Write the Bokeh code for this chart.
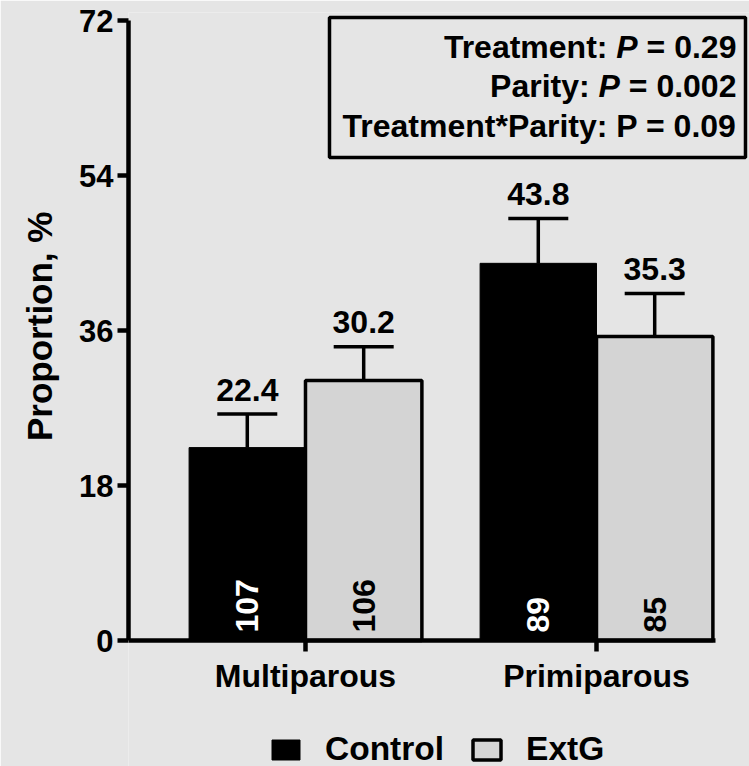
import numpy as np
from bokeh.plotting import figure
from bokeh.models import (ColumnDataSource, Whisker, TeeHead, Label, BoxAnnotation,
                          Legend, LegendItem, FixedTicker, Range1d)
from bokeh.core.properties import value
from bokeh.embed import file_html
from bokeh.resources import INLINE

# ---------------- data ----------------
categories = ["Multiparous", "Primiparous"]
control = [22.4, 43.8]
extg = [30.2, 35.3]
control_se = [3.9, 5.2]
extg_se = [3.9, 5.0]
control_n = [107, 89]
extg_n = [106, 85]
y_ticks = [0, 18, 36, 54, 72]
series_names = ["Control", "ExtG"]
y_title = "Proportion, %"
stats_lines = [
    ("Treatment:", "P", "= 0.29"),
    ("Parity:", "P", "= 0.002"),
    ("Treatment*Parity: P = 0.09", None, None),
]

# ---------------- style ----------------
FONT = "Liberation Sans"
BG = "#e5e5e5"
EXTG_FILL = "#d4d4d4"
LW = 3.5

# Arial/Liberation Sans Bold advance widths (per 1000 em)
W = {' ': 278, ':': 333, '=': 584, '.': 278, '*': 389, 'P': 667, 'T': 611, 'r': 389,
     'e': 556, 'a': 556, 't': 333, 'm': 889, 'n': 611, 'i': 278, 'y': 556}
for d in "0123456789":
    W[d] = 556


def text_width(s, size):
    return sum(W.get(c, 556) for c in s) * size / 1000.0


gx = list(range(1, len(categories) + 1))
off = 0.2
bw = 0.4

PX_PER_Y = 620 / 72.0          # vertical scale
Y_END = 628 / PX_PER_Y          # frame top 12 px from canvas top, zero line at 640
Y_START = -126 / PX_PER_Y       # frame reaches the canvas bottom
BASE_FIX = 11.5                 # px: rendered alphabetic baseline sits this much lower

p = figure(width=749, height=766, output_backend="svg", toolbar_location=None,
           x_range=Range1d(0.3918, 2.5258), y_range=Range1d(Y_START, Y_END),
           min_border_left=128, min_border_right=0, min_border_top=12, min_border_bottom=0)
p.background_fill_color = BG
p.border_fill_color = BG
p.outline_line_color = None
p.xgrid.visible = False
p.ygrid.visible = False

lab_gap = (13 + BASE_FIX) / PX_PER_Y   # 13 px above the error cap
n_gap = 8 / PX_PER_Y                   # 8 px above the baseline

src_c = ColumnDataSource(dict(
    x=[g - off for g in gx], top=control,
    upper=[v + e for v, e in zip(control, control_se)],
    lbl_y=[v + e + lab_gap for v, e in zip(control, control_se)],
    lbl=[f"{v:.1f}" for v in control], n=[str(n) for n in control_n],
    n_y=[n_gap] * len(gx)))
src_e = ColumnDataSource(dict(
    x=[g + off for g in gx], top=extg,
    upper=[v + e for v, e in zip(extg, extg_se)],
    lbl_y=[v + e + lab_gap for v, e in zip(extg, extg_se)],
    lbl=[f"{v:.1f}" for v in extg], n=[str(n) for n in extg_n],
    n_y=[n_gap] * len(gx)))

rc = p.vbar(x='x', top='top', width=bw, bottom=0, source=src_c,
            fill_color="black", line_color="black", line_width=1)
re = p.vbar(x='x', top='top', width=bw, bottom=0, source=src_e,
            fill_color=EXTG_FILL, line_color="black", line_width=LW)

for src in (src_c, src_e):
    p.add_layout(Whisker(source=src, base='x', lower='top', upper='upper', dimension='height',
                         line_width=LW, line_color="black",
                         upper_head=TeeHead(size=60, line_width=LW, line_color="black"),
                         lower_head=None))
    p.text(x='x', y='lbl_y', text='lbl', source=src, text_align='center',
           text_baseline='alphabetic', text_font=value(FONT),
           text_font_style='bold', text_font_size='32px', text_color='black')

p.text(x='x', y='n_y', text='n', source=src_c, angle=np.pi / 2, text_align='left',
       text_baseline='middle', text_font=value(FONT), text_font_style='bold',
       text_font_size='32px', text_color='white')
p.text(x='x', y='n_y', text='n', source=src_e, angle=np.pi / 2, text_align='left',
       text_baseline='middle', text_font=value(FONT), text_font_style='bold',
       text_font_size='32px', text_color='black')

# ---------------- axes ----------------
for ax in (p.xaxis[0], p.yaxis[0]):
    ax.axis_line_width = 4.5
    ax.axis_line_color = "black"
    ax.major_tick_line_width = 4.5
    ax.major_tick_line_color = "black"
    ax.major_tick_out = 11
    ax.major_tick_in = 0
    ax.minor_tick_line_color = None
    ax.major_label_text_font = FONT
    ax.major_label_text_font_style = 'bold'
    ax.major_label_text_color = 'black'

p.xaxis.fixed_location = 0
p.xaxis.ticker = FixedTicker(ticks=gx)
p.xaxis.major_label_overrides = {g: c for g, c in zip(gx, categories)}
p.xaxis.major_label_text_font_size = '32px'
p.xaxis.major_label_standoff = 6
p.xaxis.bounds = (0.3918, 2.409)

p.yaxis.ticker = FixedTicker(ticks=y_ticks)
p.yaxis.major_label_text_font_size = '31px'
p.yaxis.major_label_standoff = 4
p.yaxis.bounds = (0, 72)
# leading no-break spaces lift the title so it is centred on the 0-72 span
p.yaxis.axis_label = "\u00a0" * 13 + y_title
p.yaxis.axis_label_text_font = FONT
p.yaxis.axis_label_text_font_style = 'bold'
p.yaxis.axis_label_text_font_size = '35px'
p.yaxis.axis_label_text_color = 'black'
p.yaxis.axis_label_standoff = 17

# ---------------- stats box ----------------
p.add_layout(BoxAnnotation(left=1.0825, right=2.512, top=72.35, bottom=56.09,
                           fill_alpha=0, line_color="black", line_alpha=1, line_width=LW))
FS = 32
x_right = 2.481
baselines = [b + BASE_FIX / PX_PER_Y for b in (67.59, 63.06, 58.41)]
for (a, b, c), yb in zip(stats_lines, baselines):
    if b is None:
        p.add_layout(Label(x=x_right, y=yb, text=a, text_align='right', text_baseline='alphabetic',
                           text_font=FONT, text_font_style='bold', text_font_size=f'{FS}px',
                           text_color='black'))
        continue
    wc = text_width(c, FS)
    ws = text_width(' ', FS)
    wb = text_width(b, FS)
    p.add_layout(Label(x=x_right, y=yb, text=c, text_align='right', text_baseline='alphabetic',
                       text_font=FONT, text_font_style='bold', text_font_size=f'{FS}px',
                       text_color='black'))
    p.add_layout(Label(x=x_right, y=yb, x_offset=-(wc + ws), text=b, text_align='right',
                       text_baseline='alphabetic', text_font=FONT, text_font_style='bold italic',
                       text_font_size=f'{FS}px', text_color='black'))
    p.add_layout(Label(x=x_right, y=yb, x_offset=-(wc + ws + wb + ws), text=a, text_align='right',
                       text_baseline='alphabetic', text_font=FONT, text_font_style='bold',
                       text_font_size=f'{FS}px', text_color='black'))

# ---------------- legend ----------------
legend = Legend(items=[LegendItem(label=series_names[0], renderers=[rc]),
                       LegendItem(label=series_names[1], renderers=[re])],
                orientation='horizontal', location=(140, -2),
                glyph_width=35, glyph_height=25, label_standoff=22, spacing=25,
                label_text_font=FONT, label_text_font_style='bold', label_text_font_size='33.5px',
                label_text_color='black', border_line_color=None, background_fill_alpha=0,
                padding=0, margin=0)
p.add_layout(legend, 'center')

open("out.html", "w").write(file_html(p, INLINE))
